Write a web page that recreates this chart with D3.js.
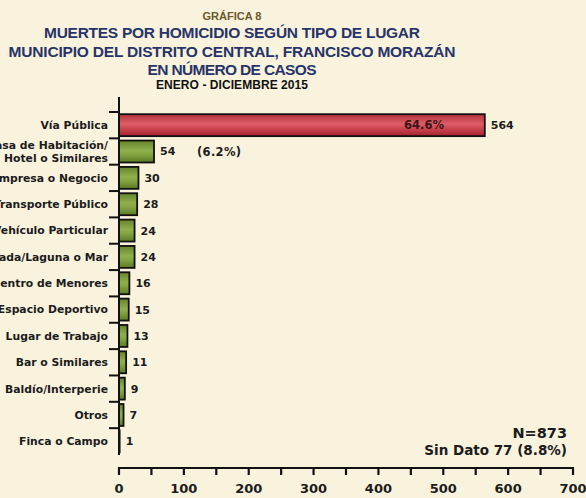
<!DOCTYPE html>
<html><head><meta charset="utf-8">
<script src="https://cdn.jsdelivr.net/npm/d3@7"></script>
<style>html,body{margin:0;padding:0;background:#f9f2dc;}svg{display:block;}</style>
</head><body>
<svg id="chart" width="586" height="498"></svg>
<script>
const categories = ["Vía Pública","Casa de Habitación/|Hotel o Similares","Empresa o Negocio","Transporte Público","Vehículo Particular","Quebrada/Laguna o Mar","Centro de Menores","Espacio Deportivo","Lugar de Trabajo","Bar o Similares","Baldío/Interperie","Otros","Finca o Campo"];
const values = [564,54,30,28,24,24,16,15,13,11,9,7,1];
const percentLabels = ["64.6%","(6.2%)"];
const xTicks = [0,100,200,300,400,500,600,700];
const titleLines = ["MUERTES POR HOMICIDIO SEGÚN TIPO DE LUGAR","MUNICIPIO DEL DISTRITO CENTRAL, FRANCISCO MORAZÁN","EN NÚMERO DE CASOS"];
const supTitle = "GRÁFICA 8";
const subTitle = "ENERO - DICIEMBRE 2015";
const noteLines = ["N=873","Sin Dato 77 (8.8%)"];

const svg = d3.select("#chart");
const FONT = "'DejaVu Sans', Verdana, sans-serif";
const TFONT = "'Liberation Sans', Arial, sans-serif";

const defs = svg.append("defs");
function grad(id, stops){
  const g = defs.append("linearGradient").attr("id",id).attr("x1",0).attr("y1",0).attr("x2",0).attr("y2",1);
  stops.forEach(s=>g.append("stop").attr("offset",s[0]).attr("stop-color",s[1]));
}
grad("gRed",[[0,"#b8323b"],[0.45,"#dc5e66"],[0.6,"#d04c55"],[1,"#a6222c"]]);
grad("gGreen",[[0,"#64832a"],[0.45,"#8fb04c"],[0.6,"#86a744"],[1,"#5b7a24"]]);

const cx = 232;
svg.append("text").attr("x",cx).attr("y",20).attr("text-anchor","middle")
  .attr("font-family",TFONT).attr("font-weight","bold").attr("font-size",11)
  .attr("fill","#6b5a2c").attr("textLength",59).attr("lengthAdjust","spacingAndGlyphs").text(supTitle);
const tWidths = [376,447,169];
const tY = [38,57,75];
titleLines.forEach((t,i)=>{
  svg.append("text").attr("x",cx).attr("y",tY[i]).attr("text-anchor","middle")
    .attr("font-family",TFONT).attr("font-weight","bold").attr("font-size",15.5)
    .attr("fill","#283469").attr("textLength",tWidths[i]).attr("lengthAdjust","spacing").text(t);
});
svg.append("text").attr("x",cx).attr("y",89).attr("text-anchor","middle")
  .attr("font-family",TFONT).attr("font-weight","bold").attr("font-size",12)
  .attr("fill","#111").attr("textLength",152).attr("lengthAdjust","spacing").text(subTitle);

const x = d3.scaleLinear().domain([0,700]).range([119,573]);
const y = d3.scaleBand().domain(categories).range([112,454.5]).padding(0);
const inset = 2.2;

svg.append("g").selectAll("rect").data(values).join("rect")
  .attr("x",x(0))
  .attr("y",(d,i)=>y(categories[i])+inset)
  .attr("width",d=>x(d)-x(0))
  .attr("height",y.bandwidth()-2*inset)
  .attr("fill",(d,i)=>i===0?"url(#gRed)":"url(#gGreen)")
  .attr("stroke","#111").attr("stroke-width",1.8);

svg.append("g").selectAll("text").data(values).join("text")
  .attr("x",d=>x(d)+6)
  .attr("y",(d,i)=>y(categories[i])+y.bandwidth()/2)
  .attr("dy","0.36em")
  .attr("font-family",FONT).attr("font-weight","bold").attr("font-size",11)
  .attr("fill","#1c1c1c").text(d=>d);

svg.append("text").attr("x",404).attr("y",y(categories[0])+y.bandwidth()/2).attr("dy","0.36em")
  .attr("font-family",FONT).attr("font-weight","bold").attr("font-size",11.5)
  .attr("fill","#3a1418").attr("textLength",40).attr("lengthAdjust","spacing").text(percentLabels[0]);
svg.append("text").attr("x",197).attr("y",y(categories[1])+y.bandwidth()/2).attr("dy","0.36em")
  .attr("font-family",FONT).attr("font-weight","bold").attr("font-size",11.5)
  .attr("fill","#1c1c1c").attr("textLength",44).attr("lengthAdjust","spacing").text(percentLabels[1]);

const ya = svg.append("g");
ya.append("line").attr("x1",x(0)).attr("x2",x(0)).attr("y1",97).attr("y2",455)
  .attr("stroke","#111").attr("stroke-width",2);
ya.selectAll("line.tk").data(categories).join("line").attr("class","tk")
  .attr("x1",x(0)-10).attr("x2",x(0)).attr("y1",d=>y(d)).attr("y2",d=>y(d))
  .attr("stroke","#111").attr("stroke-width",2);
categories.forEach(c=>{
  const parts = c.split("|");
  const cy = y(c)+y.bandwidth()/2;
  const t = ya.append("text").attr("x",108).attr("text-anchor","end")
    .attr("font-family",FONT).attr("font-weight","bold").attr("font-size",10.8).attr("fill","#1c1c1c");
  parts.forEach((p,j)=>{
    t.append("tspan").attr("x",108).attr("y",cy+(j-(parts.length-1)/2)*13).attr("dy","0.36em").text(p);
  });
});

const xa = svg.append("g");
xa.append("line").attr("x1",x(0)).attr("x2",x(700)).attr("y1",468).attr("y2",468)
  .attr("stroke","#111").attr("stroke-width",2);
xa.selectAll("line.tk").data(d3.range(0,701,50)).join("line").attr("class","tk")
  .attr("x1",d=>x(d)).attr("x2",d=>x(d)).attr("y1",467).attr("y2",475)
  .attr("stroke","#111").attr("stroke-width",2.2);
xa.selectAll("text").data(xTicks).join("text")
  .attr("x",d=>x(d)).attr("y",493).attr("text-anchor","middle")
  .attr("font-family",FONT).attr("font-weight","bold").attr("font-size",13).attr("fill","#1c1c1c")
  .text(d=>d);

svg.append("text").attr("x",567).attr("y",438).attr("text-anchor","end")
  .attr("font-family",FONT).attr("font-weight","bold").attr("font-size",14.5).attr("fill","#1c1c1c").text(noteLines[0]);
svg.append("text").attr("x",567).attr("y",455).attr("text-anchor","end")
  .attr("font-family",FONT).attr("font-weight","bold").attr("font-size",13.5).attr("fill","#1c1c1c").text(noteLines[1]);
</script>
</body></html>
